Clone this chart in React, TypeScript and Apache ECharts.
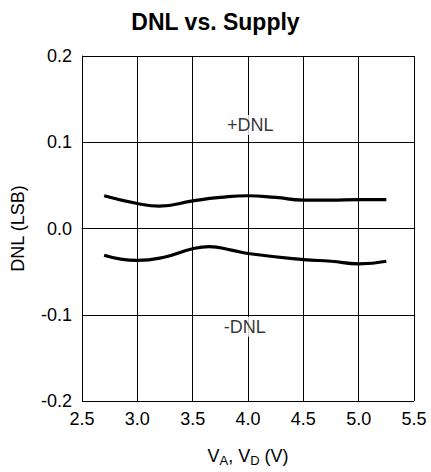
import React, { useEffect, useRef } from "react";
import * as echarts from "echarts";

const xTicks = [2.5, 3.0, 3.5, 4.0, 4.5, 5.0, 5.5];
const yTicks = [-0.2, -0.1, 0.0, 0.1, 0.2];
const supplyPos = [2.7, 3.0, 3.2, 3.5, 3.75, 4.0, 4.25, 4.5, 4.75, 5.0, 5.25];
const dnlPos = [0.038, 0.029, 0.026, 0.032, 0.036, 0.038, 0.036, 0.033, 0.033, 0.0335, 0.0335];
const supplyNeg = [2.7, 3.0, 3.25, 3.5, 3.65, 3.85, 4.0, 4.5, 4.75, 5.0, 5.25];
const dnlNeg = [-0.031, -0.037, -0.033, -0.0235, -0.021, -0.025, -0.029, -0.036, -0.038, -0.041, -0.038];
const labels = [
  { text: "+DNL", x: 4.02, y: 0.12 },
  { text: "-DNL", x: 3.97, y: -0.114 },
];

const FONT = "'Liberation Sans', Arial, sans-serif";

export default function App() {
  const ref = useRef<HTMLDivElement>(null);
  useEffect(() => {
    if (!ref.current) return;
    const chart = echarts.init(ref.current, null, { renderer: "svg" });
    chart.setOption({
      animation: false,
      backgroundColor: "#ffffff",
      textStyle: { fontFamily: FONT },
      title: {
        text: "DNL vs. Supply",
        left: "center",
        top: 5,
        textStyle: { fontFamily: FONT, fontSize: 23, fontWeight: "bold", color: "#000" },
      },
      grid: { left: 82, right: 17, top: 56, bottom: 66 },
      xAxis: {
        type: "value",
        min: xTicks[0],
        max: xTicks[xTicks.length - 1],
        interval: 0.5,
        axisLine: { show: true, lineStyle: { color: "#000", width: 1 } },
        axisTick: { show: false },
        splitLine: { show: true, lineStyle: { color: "#000", width: 1 } },
        axisLabel: {
          color: "#000",
          fontSize: 18,
          fontFamily: FONT,
          margin: 9,
          formatter: (v: number) => v.toFixed(1),
        },
        name: "{v|V}{s|A}{v|, V}{s|D}{v| (V)}",
        nameLocation: "middle",
        nameGap: 43,
        nameTextStyle: {
          rich: {
            v: { fontSize: 18, color: "#000", fontFamily: FONT },
            s: { fontSize: 13, color: "#000", fontFamily: FONT, verticalAlign: "bottom", padding: [10, 0, 0, 0] },
          },
        },
      },
      yAxis: {
        type: "value",
        min: yTicks[0],
        max: yTicks[yTicks.length - 1],
        interval: 0.1,
        axisLine: { show: true, lineStyle: { color: "#000", width: 1 } },
        axisTick: { show: false },
        splitLine: { show: true, lineStyle: { color: "#000", width: 1 } },
        axisLabel: {
          color: "#000",
          fontSize: 18,
          fontFamily: FONT,
          margin: 10,
          formatter: (v: number) => (Math.abs(v) < 1e-9 ? "0.0" : v.toFixed(1)),
        },
        name: "DNL (LSB)",
        nameLocation: "middle",
        nameGap: 55,
        nameTextStyle: { fontSize: 18, color: "#000", fontFamily: FONT },
      },
      series: [
        {
          type: "line",
          data: supplyPos.map((x, i) => [x, dnlPos[i]]),
          smooth: 0.5,
          showSymbol: false,
          lineStyle: { color: "#000", width: 3.2 },
        },
        {
          type: "line",
          data: supplyNeg.map((x, i) => [x, dnlNeg[i]]),
          smooth: 0.5,
          showSymbol: false,
          lineStyle: { color: "#000", width: 3.2 },
        },
        {
          type: "scatter",
          data: labels.map((l) => [l.x, l.y, l.text]),
          symbolSize: 0,
          label: {
            show: true,
            position: "inside",
            formatter: (p: any) => p.data[2],
            color: "#000",
            fontSize: 18,
            fontFamily: FONT,
            backgroundColor: "#fff",
            padding: [1, 2],
          },
        },
      ],
    });
    return () => chart.dispose();
  }, []);
  return (
    <div
      ref={ref}
      style={{ position: "fixed", left: 0, top: 0, width: 431, height: 472 }}
    />
  );
}
